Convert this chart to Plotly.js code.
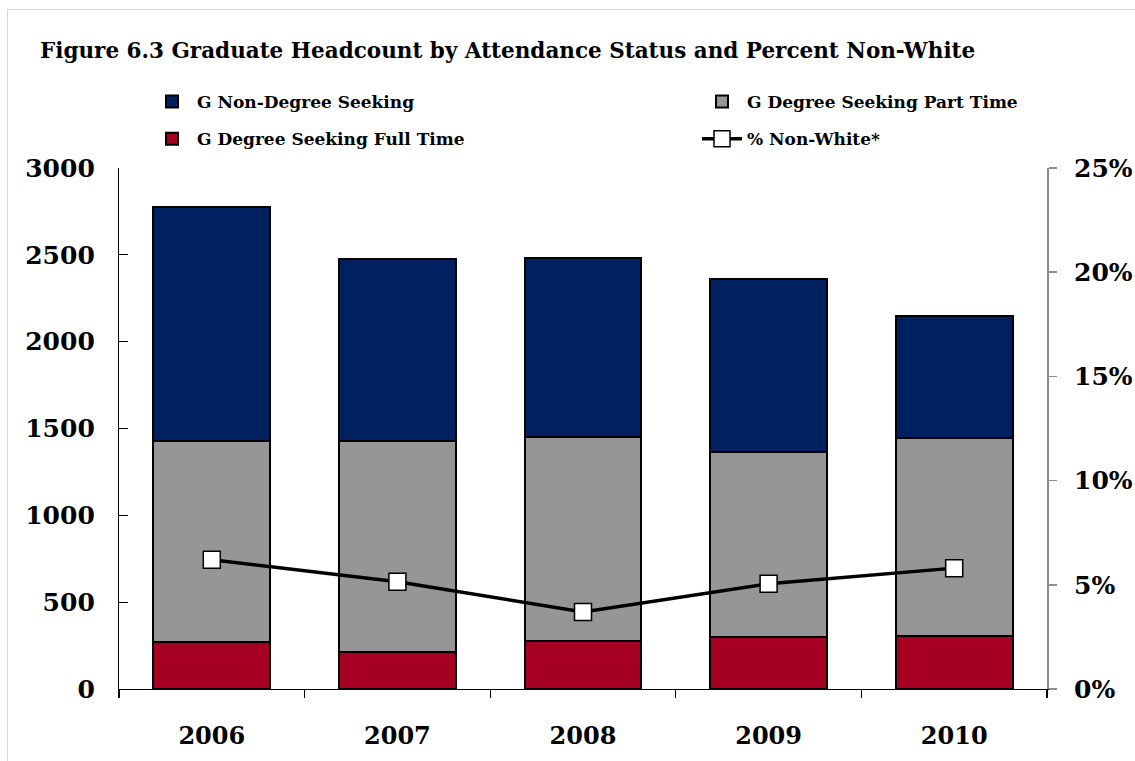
<!DOCTYPE html>
<html>
<head>
<meta charset="utf-8">
<script src="https://cdn.plot.ly/plotly-3.0.1.min.js"></script>
<style>
  html, body { margin: 0; padding: 0; background: #fff; }
  #wrap { position: relative; width: 1135px; height: 761px; overflow: hidden; }
  #chart { width: 1135px; height: 761px; }
  #frame { position: absolute; left: 7px; top: 9px; width: 1200px; height: 800px; border: 1px solid #d9d9d9; pointer-events: none; }
</style>
</head>
<body>
<div id="wrap">
  <div id="chart"></div>
  <div id="frame"></div>
</div>
<script>
const years = ["2006", "2007", "2008", "2009", "2010"];
const fullTime = [272, 211, 278, 298, 307];
const partTime = [1158, 1219, 1175, 1065, 1140];
const nonDegree = [1345, 1046, 1027, 996, 703];
const pctNonWhite = [0.062, 0.0515, 0.037, 0.0505, 0.058];

const FONT = "DejaVu Serif";
const barLine = { color: "#000000", width: 2 };

const traces = [
  {
    type: "bar", name: "G Degree Seeking Full Time", x: years, y: fullTime,
    marker: { color: "#A50021", line: barLine },
    legend: "legend", legendrank: 2, legendgroup: "ft", hoverinfo: "y"
  },
  {
    type: "bar", name: "G Degree Seeking Part Time", x: years, y: partTime,
    marker: { color: "#969696", line: barLine },
    legend: "legend2", legendrank: 1, legendgroup: "pt", hoverinfo: "y"
  },
  {
    type: "bar", name: "G Non-Degree Seeking", x: years, y: nonDegree,
    marker: { color: "#002060", line: barLine },
    legend: "legend", legendrank: 1, legendgroup: "nd", hoverinfo: "y"
  },
  {
    type: "scatter", mode: "lines+markers", name: "% Non-White*", x: years, y: pctNonWhite,
    yaxis: "y2",
    line: { color: "#000000", width: 3.5 },
    marker: { symbol: "square", size: 17, color: "#ffffff", line: { color: "#000000", width: 1.5 } },
    legend: "legend2", legendrank: 2, legendgroup: "nw"
  }
];

const legendCommon = {
  orientation: "v",
  traceorder: "grouped",
  xref: "container", yref: "container",
  yanchor: "top", xanchor: "left",
  font: { family: FONT, size: 17, color: "#000", weight: "bold" },
  bgcolor: "rgba(0,0,0,0)",
  tracegroupgap: 12,
  itemwidth: 40
};

const layout = {
  width: 1135, height: 761,
  margin: { l: 119, r: 88, t: 168, b: 72, autoexpand: false },
  paper_bgcolor: "#ffffff",
  plot_bgcolor: "rgba(0,0,0,0)",
  barmode: "stack",
  bargap: 0.37,
  title: {
    text: "Figure 6.3 Graduate Headcount by Attendance Status and Percent Non-White",
    font: { family: FONT, size: 21.5, color: "#000", weight: "bold" },
    xref: "container", yref: "container",
    x: 40 / 1135, xanchor: "left",
    y: 1 - 50 / 761, yanchor: "middle"
  },
  showlegend: true,
  legend: Object.assign({}, legendCommon, { x: 147 / 1135, y: 1 - 84 / 761 }),
  legend2: Object.assign({}, legendCommon, { x: 697 / 1135, y: 1 - 84 / 761 }),
  xaxis: {
    type: "category", automargin: false, tickangle: 0,
    showline: true, linecolor: "#000", linewidth: 1.2,
    ticks: "outside", tickson: "boundaries", ticklen: 8, tickcolor: "#000", tickwidth: 1.2,
    tickfont: { family: FONT, size: 24, color: "#000", weight: "bold" },
    ticklabelstandoff: 25,
    showgrid: false, zeroline: false
  },
  yaxis: {
    range: [0, 3000], dtick: 500, tick0: 0, automargin: false,
    showline: true, linecolor: "#000", linewidth: 1.2,
    ticks: "inside", ticklen: 9, tickcolor: "#000", tickwidth: 1.2,
    tickfont: { family: FONT, size: 25, color: "#000", weight: "bold" },
    ticklabelstandoff: 18,
    showgrid: false, zeroline: false
  },
  yaxis2: {
    overlaying: "y", side: "right", automargin: false,
    range: [0, 0.25], dtick: 0.05, tick0: 0, tickformat: ".0%",
    showline: true, linecolor: "#8c8c8c", linewidth: 2,
    ticks: "outside", ticklen: 8, tickcolor: "#8c8c8c", tickwidth: 1.5,
    tickfont: { family: FONT, size: 25, color: "#000", weight: "bold" },
    ticklabelstandoff: 12,
    showgrid: false, zeroline: false
  }
};

Plotly.newPlot("chart", traces, layout, { displayModeBar: false, staticPlot: true });
</script>
</body>
</html>
